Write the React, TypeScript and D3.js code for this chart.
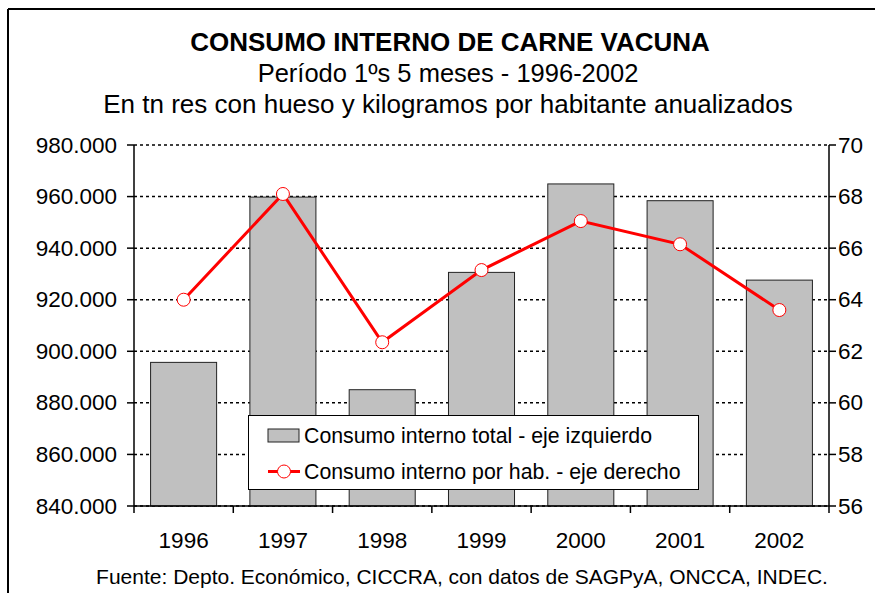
import * as d3 from "d3";

const years = ["1996", "1997", "1998", "1999", "2000", "2001", "2002"];
const totalTn = [895700, 959800, 885100, 930600, 964900, 958400, 927600];
const perCapita = [64.0, 68.1, 62.35, 65.15, 67.05, 66.15, 63.6];
const leftTicks = [840000, 860000, 880000, 900000, 920000, 940000, 960000, 980000];
const rightTicks = [56, 58, 60, 62, 64, 66, 68, 70];

const titleLines = [
  "CONSUMO INTERNO DE CARNE VACUNA",
  "Período 1ºs 5 meses - 1996-2002",
  "En tn res con hueso y kilogramos por habitante anualizados",
];
const legendLabels = [
  "Consumo interno total - eje izquierdo",
  "Consumo interno por hab. - eje derecho",
];
const source = "Fuente: Depto. Económico, CICCRA, con datos de SAGPyA, ONCCA, INDEC.";

export default function App() {
  const width = 875,
    height = 593;
  const left = 134,
    right = 829,
    top = 145,
    bottom = 506;
  const font = "'Liberation Sans', Arial, sans-serif";

  const x = d3
    .scaleBand<string>()
    .domain(years)
    .range([left, right])
    .paddingInner(0.335)
    .paddingOuter(0.167);
  const band = d3.scaleBand<string>().domain(years).range([left, right]);
  const yL = d3.scaleLinear().domain([840000, 980000]).range([bottom, top]);
  const yR = d3.scaleLinear().domain([56, 70]).range([bottom, top]);
  const fmt = (v: number) => d3.format(",")(v).replace(/,/g, ".");

  const line = d3
    .line<number>()
    .x((_, i) => band(years[i])! + band.bandwidth() / 2)
    .y((d) => yR(d));

  return (
    <svg
      width={width}
      height={height}
      style={{ position: "absolute", left: 0, top: 0 }}
      fontFamily={font}
    >
      <rect x={0} y={0} width={width} height={height} fill="white" />
      {/* frame */}
      <line x1={8} y1={9} x2={width} y2={9} stroke="black" strokeWidth={2} />
      <line x1={8} y1={9} x2={8} y2={height} stroke="black" strokeWidth={2} />

      {/* titles */}
      <text x={450} y={51} textAnchor="middle" fontSize={26} fontWeight="bold">
        {titleLines[0]}
      </text>
      <text x={448} y={82} textAnchor="middle" fontSize={25.5}>
        {titleLines[1]}
      </text>
      <text x={448} y={113} textAnchor="middle" fontSize={26}>
        {titleLines[2]}
      </text>

      {/* grid */}
      {leftTicks.map((t) => (
        <line
          key={t}
          x1={left}
          x2={right}
          y1={yL(t)}
          y2={yL(t)}
          stroke="black"
          strokeWidth={1.5}
          strokeDasharray="3 3"
        />
      ))}

      {/* bars */}
      {totalTn.map((v, i) => (
        <rect
          key={years[i]}
          x={x(years[i])}
          y={yL(v)}
          width={x.bandwidth()}
          height={bottom - yL(v)}
          fill="#c0c0c0"
          stroke="#222"
          strokeWidth={1}
        />
      ))}

      {/* axes */}
      <line x1={left} x2={left} y1={top} y2={bottom} stroke="black" strokeWidth={1.5} />
      <line x1={right} x2={right} y1={top} y2={bottom} stroke="black" strokeWidth={1.5} />
      <line x1={left} x2={right} y1={bottom} y2={bottom} stroke="black" strokeWidth={1.5} />
      {leftTicks.map((t) => (
        <g key={t}>
          <line x1={left - 7} x2={left} y1={yL(t)} y2={yL(t)} stroke="black" strokeWidth={1.5} />
          <text x={117} y={yL(t)} textAnchor="end" dominantBaseline="central" fontSize={22.5}>
            {fmt(t)}
          </text>
        </g>
      ))}
      {rightTicks.map((t) => (
        <g key={t}>
          <line x1={right} x2={right + 7} y1={yR(t)} y2={yR(t)} stroke="black" strokeWidth={1.5} />
          <text x={838} y={yR(t)} textAnchor="start" dominantBaseline="central" fontSize={22.5}>
            {t}
          </text>
        </g>
      ))}
      {years.map((yr, i) => (
        <g key={yr}>
          <line
            x1={band(yr)!}
            x2={band(yr)!}
            y1={bottom}
            y2={bottom + 7}
            stroke="black"
            strokeWidth={1.5}
          />
          {i === years.length - 1 && (
            <line x1={right} x2={right} y1={bottom} y2={bottom + 7} stroke="black" strokeWidth={1.5} />
          )}
          <text x={band(yr)! + band.bandwidth() / 2} y={548} textAnchor="middle" fontSize={22.5}>
            {yr}
          </text>
        </g>
      ))}

      {/* line series */}
      <path d={line(perCapita) ?? ""} fill="none" stroke="#ff0000" strokeWidth={3} />
      {perCapita.map((v, i) => (
        <circle
          key={years[i]}
          cx={band(years[i])! + band.bandwidth() / 2}
          cy={yR(v)}
          r={6.5}
          fill="white"
          stroke="#ff0000"
          strokeWidth={1}
        />
      ))}

      {/* legend */}
      <g>
        <rect x={248.5} y={415.5} width={450} height={74} fill="white" stroke="black" strokeWidth={1} />
        <rect x={268} y={429} width={31} height={13} fill="#c0c0c0" stroke="#222" strokeWidth={1} />
        <text x={304} y={436} dominantBaseline="central" fontSize={21.3}>
          {legendLabels[0]}
        </text>
        <line x1={268} x2={300} y1={471.5} y2={471.5} stroke="#ff0000" strokeWidth={3} />
        <circle cx={284} cy={471.5} r={6.5} fill="white" stroke="#ff0000" strokeWidth={1} />
        <text x={304} y={472} dominantBaseline="central" fontSize={21.3}>
          {legendLabels[1]}
        </text>
      </g>

      {/* source */}
      <text x={462} y={584} textAnchor="middle" fontSize={21}>
        {source}
      </text>
    </svg>
  );
}
